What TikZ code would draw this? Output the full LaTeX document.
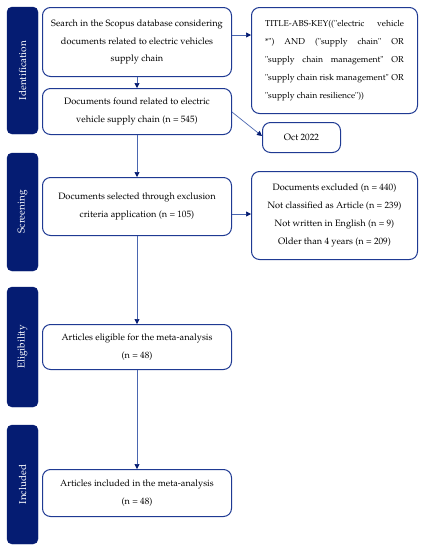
\documentclass[tikz,border=0pt]{standalone}
\usepackage[T1]{fontenc}
\usepackage{mathpazo}
\usetikzlibrary{arrows.meta}
\definecolor{navy}{HTML}{051C72}
\definecolor{edge}{HTML}{1F3A93}
\definecolor{linec}{HTML}{4A66B0}
\newcommand{\dq}{\textquotedbl}
\newcommand{\jline}[1]{\hbox to 139pt{#1}}
\begin{document}
\begin{tikzpicture}[x=1pt,y=-1pt,
  phasebar/.style={fill=navy,draw=navy,rounded corners=5pt},
  phaselabel/.style={text=white,rotate=90,font=\fontsize{10}{12}\selectfont},
  flowbox/.style={draw=edge,line width=1pt,rounded corners=8pt,fill=white},
  flowtext/.style={align=center,font=\fontsize{9.2}{17.7}\selectfont,inner sep=0pt},
  arr/.style={draw=linec,line width=0.7pt,-{Triangle[length=5pt,width=5pt,fill=navy,color=navy]}}]
\useasboundingbox (0,0) rectangle (423,550);
% phase bars
\draw[phasebar] (7,7) rectangle (38,134);
\node[phaselabel] (pid) at (22.5,70.5) {Identification};
\draw[phasebar] (7,153) rectangle (38,271);
\node[phaselabel] (psc) at (22.5,212) {Screening};
\draw[phasebar] (7,287) rectangle (38,407);
\node[phaselabel] (pel) at (22.5,347) {Eligibility};
\draw[phasebar] (7,425) rectangle (38,544);
\node[phaselabel] (pin) at (22.5,484.5) {Included};
% boxes
\node[flowbox,minimum width=189pt,minimum height=69pt,anchor=north west] (b1) at (42,7) {};
\node[flowtext] at (b1.center) {Search in the Scopus database considering\\documents related to electric vehicles\\supply chain};
\node[flowbox,minimum width=189pt,minimum height=46pt,anchor=north west] (b2) at (42,88) {};
\node[flowtext] at (b2.center) {Documents found related to electric\\vehicle supply chain (n = 545)};
\node[flowbox,minimum width=189pt,minimum height=58pt,anchor=north west] (b3) at (42,177) {};
\node[flowtext] at (b3.center) {Documents selected through exclusion\\criteria application (n = 105)};
\node[flowbox,minimum width=189pt,minimum height=45pt,anchor=north west] (b4) at (42,324) {};
\node[flowtext] at (b4.center) {Articles eligible for the meta-analysis\\(n = 48)};
\node[flowbox,minimum width=189pt,minimum height=47pt,anchor=north west] (b5) at (42,469) {};
\node[flowtext] at (b5.center) {Articles included in the meta-analysis\\(n = 48)};
\node[flowbox,minimum width=166pt,minimum height=106pt,anchor=north west] (q) at (251,7) {};
\node[flowtext,align=left,font=\fontsize{8.6}{17.8}\selectfont] at (q.center) {\jline{TITLE-ABS-KEY((\dq electric\hfill vehicle}\\
\jline{*\dq)\hfill AND\hfill (\dq supply\hfill chain\dq\hfill OR}\\
\jline{\dq supply\hfill chain\hfill management\dq\hfill OR}\\
\jline{\dq supply chain risk management\dq\hfill OR}\\
\jline{\dq supply chain resilience\dq))\hfil}};
\node[flowbox,minimum width=78pt,minimum height=30pt,anchor=north west] (oct) at (262,122) {};
\node[flowtext] at (oct.center) {Oct 2022};
\node[flowbox,minimum width=166pt,minimum height=88pt,anchor=north west] (ex) at (251,171) {};
\node[flowtext] at (ex.center) {Documents excluded (n = 440)\\Not classified as Article (n = 239)\\Not written in English (n = 9)\\Older than 4 years (n = 209)};
% arrows
\draw[arr] (b1.south) -- (b2.north);
\draw[arr] (b2.south) -- (b3.north);
\draw[arr] (b3.south) -- (b4.north);
\draw[arr] (b4.south) -- (b5.north);
\draw[arr] (b1.east |- 0,35) -- (q.west |- 0,35);
\draw[arr] (b3.east |- 0,214) -- (ex.west |- 0,214);
\draw[arr] (b2.east |- 0,112) -- (oct.west |- 0,136);
\end{tikzpicture}
\end{document}
